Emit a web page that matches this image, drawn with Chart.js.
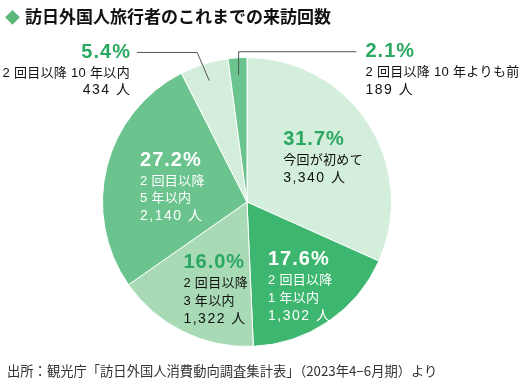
<!DOCTYPE html>
<html>
<head>
<meta charset="utf-8">
<script src="https://cdn.jsdelivr.net/npm/chart.js@4"></script>
<style>
  body { margin: 0; background: #fff; }
  #wrap { position: relative; width: 520px; height: 384px; overflow: hidden; }
  #title { position: absolute; left: 5px; top: 3px; font: bold 17px "Noto Sans CJK JP", sans-serif; color: #111; white-space: nowrap; }
  #title span { color: #5cb87a; font-size: 15px; margin-right: 5px; }
  #src { position: absolute; left: 7px; top: 361px; font: 13.3px "Noto Sans CJK JP", sans-serif; color: #333; white-space: nowrap; }
  canvas { position: absolute; left: 0; top: 0; }
</style>
</head>
<body>
<div id="wrap">
  <canvas id="myChart" width="520" height="384"></canvas>
  <div id="title"><span>◆</span>訪日外国人旅行者のこれまでの来訪回数</div>
  <div id="src">出所：観光庁「訪日外国人消費動向調査集計表」（2023年4−6月期）より</div>
</div>
<script>
'use strict';

// clockwise from 12 o'clock
let shares = [31.7, 17.6, 16.0, 27.2, 5.4, 2.1];
let people = ['3,340 人', '1,302 人', '1,322 人', '2,140 人', '434 人', '189 人'];
let groups = [
  ['今回が初めて'],
  ['2 回目以降', '1 年以内'],
  ['2 回目以降', '3 年以内'],
  ['2 回目以降', '5 年以内'],
  ['2 回目以降 10 年以内'],
  ['2 回目以降 10 年よりも前']
];
let sliceColors = ['#d3eedb', '#3db66f', '#a8dab5', '#6bc48e', '#d3eedb', '#6bc48e'];

// label block placement, relative to pie centre in units of radius
let labelSpots = [
  {dx: 0.25, dy: -0.43, align: 'left', pct: '#2aa760', txt: '#111'},
  {dx: 0.145, dy: 0.40, align: 'left', pct: '#fff', txt: '#fff'},
  {dx: -0.44, dy: 0.42, align: 'left', pct: '#2aa760', txt: '#111'},
  {dx: -0.74, dy: -0.29, align: 'left', pct: '#fff', txt: '#fff'},
  {dx: -0.81, dy: -1.035, align: 'right', pct: '#2aa760', txt: '#111', out: true},
  {dx: 0.82, dy: -1.04, align: 'left', pct: '#2aa760', txt: '#111', out: true}
];

let fontStack = '"Liberation Sans", "Noto Sans CJK JP", sans-serif';

let sliceLabels = {
  id: 'sliceLabels',
  afterDatasetsDraw(chart) {
    let ctx = chart.ctx;
    let arcs = chart.getDatasetMeta(0).data;
    arcs.forEach(function(arc, i) {
      let r = arc.outerRadius;
      let cx = arc.x;
      let cy = arc.y;
      let spot = labelSpots[i];
      let x = cx + spot.dx * r;
      let y = cy + spot.dy * r;

      if (spot.out) {
        let mid = (arc.startAngle + arc.endAngle) / 2;
        let px = cx + Math.cos(mid) * r * 0.88;
        let py = cy + Math.sin(mid) * r * 0.88;
        ctx.save();
        ctx.strokeStyle = '#555';
        ctx.lineWidth = 1;
        ctx.beginPath();
        if (spot.align === 'right') {
          ctx.moveTo(x + 7, y);
          ctx.lineTo(px - 12, y);
          ctx.lineTo(px, py);
        } else {
          ctx.moveTo(x - 9, y);
          ctx.lineTo(px, y);
          ctx.lineTo(px, py);
        }
        ctx.stroke();
        ctx.restore();
      }

      ctx.save();
      ctx.textAlign = spot.align;
      ctx.textBaseline = 'middle';
      ctx.fillStyle = spot.pct;
      ctx.font = 'bold 20px ' + fontStack;
      ctx.letterSpacing = '1px';
      let pctX = spot.align === 'right' ? x + 1 : x;
      ctx.fillText(shares[i].toFixed(1) + '%', pctX, y);
      ctx.fillStyle = spot.txt;
      let lines = groups[i].concat([people[i]]);
      let gap = spot.out ? 17 : 17.5;
      lines.forEach(function(line, k) {
        let isCount = k === lines.length - 1;
        ctx.font = (isCount ? '14px ' : '13px ') + fontStack;
        ctx.letterSpacing = isCount ? '1.5px' : '0.3px';
        let lx = spot.align === 'right' && isCount ? x + 1.5 : x;
        ctx.fillText(line, lx, y + 21 + k * gap);
      });
      ctx.restore();
    });
  }
};

let ctx = document.getElementById('myChart').getContext('2d');
new Chart(ctx, {
  type: 'pie',
  data: {
    labels: people,
    datasets: [{
      data: shares,
      backgroundColor: sliceColors,
      borderColor: '#ffffff',
      borderWidth: 1
    }]
  },
  options: {
    responsive: false,
    animation: false,
    devicePixelRatio: 1,
    layout: { padding: { left: 102, right: 128, top: 57, bottom: 37 } },
    plugins: {
      legend: { display: false },
      tooltip: { enabled: false }
    }
  },
  plugins: [sliceLabels]
});
</script>
</body>
</html>
